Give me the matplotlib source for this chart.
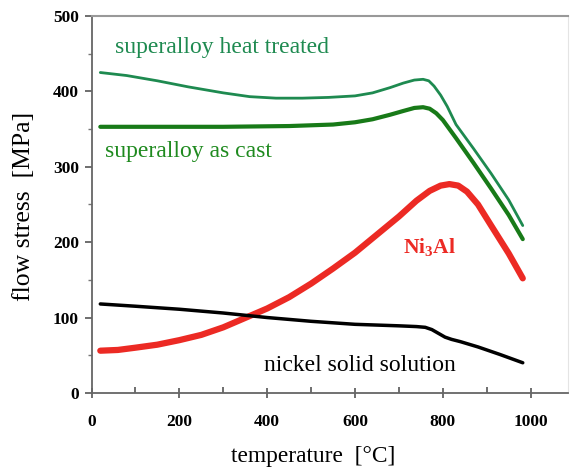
import matplotlib
matplotlib.use("Agg")
from matplotlib import pyplot as plt
from matplotlib.ticker import MultipleLocator

# temperature [°C] / flow stress [MPa]
t_heat = [20, 80, 150, 220, 300, 360, 420, 480, 540, 600, 640, 680, 710, 735, 755, 768, 780, 795, 810, 830, 870, 910, 950, 982]
s_heat = [425, 421, 414, 406, 398, 393, 391, 391, 392, 394, 398, 405, 411, 415, 416, 414, 407, 395, 380, 356, 324, 291, 256, 222]

t_cast = [20, 150, 300, 450, 550, 600, 640, 680, 710, 735, 755, 770, 785, 800, 830, 870, 910, 950, 982]
s_cast = [353, 353, 353, 354, 356, 359, 363, 369, 374, 378, 379, 377, 371, 362, 338, 305, 271, 236, 204]

t_ni3al = [20, 60, 100, 150, 200, 250, 300, 360, 400, 450, 500, 550, 600, 650, 700, 740, 770, 795, 815, 835, 855, 880, 910, 950, 982]
s_ni3al = [56, 57, 60, 64, 70, 77, 87, 102, 112, 127, 145, 165, 186, 210, 234, 255, 268, 275, 277, 275, 267, 250, 222, 185, 152]

t_nickel = [20, 100, 200, 300, 400, 500, 600, 700, 740, 760, 775, 790, 805, 820, 840, 880, 930, 982]
s_nickel = [118, 115, 111, 106, 100, 95, 91, 89, 88, 87, 84, 79, 74, 71, 68, 61, 51, 40]

x_ticks = [0, 200, 400, 600, 800, 1000]
y_ticks = [0, 100, 200, 300, 400, 500]

serif = ['Liberation Serif', 'DejaVu Serif']
plt.rcParams['font.family'] = serif

fig = plt.figure(figsize=(5.72, 4.70), dpi=100)
ax = fig.add_axes([0.160, 0.164, 0.833, 0.802])

ax.plot(t_heat, s_heat, color='#1e8a50', lw=2.0, solid_capstyle='round', solid_joinstyle='round')
ax.plot(t_cast, s_cast, color='#187a18', lw=3.0, solid_capstyle='round', solid_joinstyle='round')
ax.plot(t_ni3al, s_ni3al, color='#ec2a24', lw=4.5, solid_capstyle='round', solid_joinstyle='round')
ax.plot(t_nickel, s_nickel, color='black', lw=2.5, solid_capstyle='round', solid_joinstyle='round')

ax.text(53, 458, 'superalloy heat treated', color='#1e8a50', fontsize=17, va='center')
ax.text(30, 320, 'superalloy as cast', color='#1f8a1f', fontsize=17, va='center')
ax.text(710, 192, r'Ni$_\mathregular{3}$Al', color='#ec2a24', fontsize=15.5, fontweight='bold', va='center')
ax.text(393, 36, 'nickel solid solution', color='black', fontsize=17, va='center')

ax.set_xlim(0, 1085)
ax.set_ylim(0, 500)
ax.set_xticks(x_ticks)
ax.set_yticks(y_ticks)
ax.xaxis.set_minor_locator(MultipleLocator(100))
ax.yaxis.set_minor_locator(MultipleLocator(50))
ax.tick_params(axis='x', which='major', direction='inout', length=7, width=1.2, color='#555555', pad=12)
ax.tick_params(axis='x', which='minor', direction='in', length=4, width=1.2, color='#555555')
ax.tick_params(axis='y', which='major', direction='out', length=5, width=1.2, color='#555555', pad=4)
ax.tick_params(axis='y', which='minor', direction='out', length=3, width=1.0, color='#777777')
for lab in ax.get_xticklabels() + ax.get_yticklabels():
    lab.set_fontweight('bold')
    lab.set_fontsize(12.5)

ax.spines['left'].set_color('#666666')
ax.spines['bottom'].set_color('#666666')
ax.spines['top'].set_color('#999999')
ax.spines['right'].set_color('#e4e4e4')
ax.spines['left'].set_linewidth(1.3)
ax.spines['bottom'].set_linewidth(1.3)
ax.spines['top'].set_linewidth(1.5)

ax.set_xlabel('temperature  [°C]', fontsize=16.8)
ax.set_ylabel('flow stress  [MPa]', fontsize=18.5)
ax.xaxis.set_label_coords(0.465, -0.14)
ax.yaxis.set_label_coords(-0.118, 0.494)

fig.savefig('out.png', dpi=100)
